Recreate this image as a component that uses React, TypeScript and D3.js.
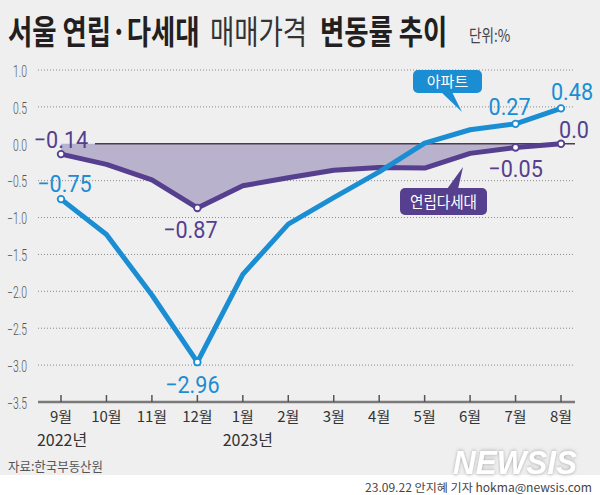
import React from 'react';
import * as d3 from 'd3';

const months = ['9월', '10월', '11월', '12월', '1월', '2월', '3월', '4월', '5월', '6월', '7월', '8월'];
const apartment = [-0.75, -1.23, -2.05, -2.96, -1.77, -1.09, -0.73, -0.38, 0.01, 0.19, 0.27, 0.48];
const villa = [-0.14, -0.28, -0.49, -0.87, -0.57, -0.46, -0.36, -0.32, -0.33, -0.13, -0.05, 0.0];
const yTicks = [1.0, 0.5, 0, -0.5, -1.0, -1.5, -2.0, -2.5, -3.0, -3.5];
const labeledIdx = [0, 3, 10, 11];
const yearLabels = ['2022년', '2023년'];
const yearMonths = ['9월', '1월'];

const W = 600;
const H = 495;
const BLUE = '#1b8dd3';
const PURPLE = '#553f8e';
const FILL = '#b8b2cc';
const BG = '#efefef';
const KR = "'Noto Sans CJK KR', 'Noto Sans', sans-serif";
const NUM = "Roboto, 'Noto Sans', sans-serif";

// label placement (dx, dy relative to point)
const aptLabelOffsets = [[3.5, -7.5], [-5, 31], [-6, -9], [11, -8.5]];
const villaLabelOffsets = [[0, -6], [-7, 30], [0, 29.5], [13, -6]];
const yearOffsets = [1, 5];
const TITLE_SX = 0.8;

export default function App() {
  const x = d3.scalePoint<string>().domain(months).range([61, 561]);
  const y = d3.scaleLinear().domain([-3.5, 1.0]).range([402, 70]);
  const xi = (i: number) => x(months[i]) as number;
  const line = d3.line<number>().x((_, i) => xi(i)).y((d) => y(d));
  const area = d3
    .area<number>()
    .x((_, i) => xi(i))
    .y0(y(0))
    .y1((d) => y(Math.min(d, 0)));
  const fmt = (v: number) => (v === 0 ? '0.0' : d3.format('.2f')(v));
  const fmtTick = (v: number) => d3.format('.1f')(v);
  const gx0 = 38;
  const gx1 = 575;
  const tx = (px: number) => px / TITLE_SX;

  const numLabel = (v: number, i: number, off: number[], color: string, key: string) => (
    <text
      key={key}
      transform={`translate(${xi(i) + off[0]},${y(v) + off[1]}) scale(0.9,1)`}
      textAnchor="middle"
      fontFamily={NUM}
      fontSize={24}
      fill={color}
    >
      {fmt(v)}
    </text>
  );

  return (
    <svg
      width={W}
      height={H}
      viewBox={`0 0 ${W} ${H}`}
      style={{ position: 'absolute', left: 0, top: 0, background: '#fff' }}
    >
      <defs>
        <filter id="wm" x="-10%" y="-30%" width="120%" height="160%">
          <feDropShadow dx="0" dy="0" stdDeviation="1.6" floodColor="#9a9a9a" floodOpacity="0.9" />
        </filter>
      </defs>
      <rect x={0} y={0} width={W} height={475} fill={BG} />

      {/* Title */}
      <text transform={`translate(0,44) scale(${TITLE_SX},1)`} fontFamily={KR} fontSize={33} fill="#231f20">
        <tspan x={tx(8)} fontWeight={700}>서울 연립·다세대</tspan>
        <tspan x={tx(210)} fontWeight={400} fill="#333">매매가격</tspan>
        <tspan x={tx(320)} fontWeight={700}>변동률 추이</tspan>
        <tspan x={tx(469)} y={-2} fontWeight={400} fontSize={17} fill="#444">단위:%</tspan>
      </text>

      {/* gridlines */}
      {yTicks
        .filter((t) => t !== 0 && t !== -3.5)
        .map((t) => (
          <line key={'g' + t} x1={gx0} x2={gx1} y1={y(t)} y2={y(t)} stroke="#8a8a8a" strokeWidth={1} strokeDasharray="1,2" />
        ))}

      {/* y tick labels */}
      {yTicks.map((t) => (
        <text
          key={'yl' + t}
          transform={`translate(27,${y(t) + 1}) scale(0.65,1)`}
          textAnchor="end"
          dy="0.36em"
          fontFamily={NUM}
          fontWeight={300}
          fontSize={16}
          fill="#555"
        >
          {fmtTick(t)}
        </text>
      ))}

      {/* villa fill */}
      <path d={area(villa) as string} fill={FILL} />
      {/* zero line */}
      <line x1={xi(0) + 34} x2={gx1} y1={y(0)} y2={y(0)} stroke="#4a3d4e" strokeWidth={1.5} />

      {/* x axis */}
      <line x1={gx0} x2={gx1} y1={y(-3.5)} y2={y(-3.5)} stroke="#7a7a7a" strokeWidth={2.5} />
      {months.map((m) => (
        <line key={'t' + m} x1={x(m)} x2={x(m)} y1={y(-3.5) - 7} y2={y(-3.5)} stroke="#555" strokeWidth={1.5} />
      ))}
      {months.map((m) => (
        <text key={'xl' + m} x={x(m)} y={422} textAnchor="middle" fontFamily={KR} fontSize={15} fill="#333">
          {m}
        </text>
      ))}
      {yearLabels.map((t, i) => (
        <text
          key={t}
          x={(x(yearMonths[i]) as number) + yearOffsets[i]}
          y={446}
          textAnchor="middle"
          fontFamily={KR}
          fontSize={16}
          fill="#333"
        >
          {t}
        </text>
      ))}

      {/* lines */}
      <path d={line(villa) as string} fill="none" stroke={PURPLE} strokeWidth={5} strokeLinejoin="round" />
      <path d={line(apartment) as string} fill="none" stroke={BLUE} strokeWidth={5} strokeLinejoin="round" />

      {/* markers */}
      {labeledIdx.map((i) => (
        <circle key={'vm' + i} cx={xi(i)} cy={y(villa[i])} r={3.3} fill="#fff" stroke={PURPLE} strokeWidth={1.8} />
      ))}
      {labeledIdx.map((i) => (
        <circle key={'am' + i} cx={xi(i)} cy={y(apartment[i])} r={3.3} fill="#fff" stroke={BLUE} strokeWidth={1.8} />
      ))}

      {/* value labels */}
      {labeledIdx.map((i, k) => numLabel(villa[i], i, villaLabelOffsets[k], PURPLE, 'vl' + i))}
      {labeledIdx.map((i, k) => numLabel(apartment[i], i, aptLabelOffsets[k], BLUE, 'al' + i))}

      {/* callouts */}
      <path d="M441,92 L452,92 L462,112 Z" fill={BLUE} />
      <rect x={413} y={70} width={69} height={23} rx={5} fill={BLUE} />
      <text x={447.5} y={87} textAnchor="middle" fontFamily={KR} fontSize={15} fill="#fff">
        아파트
      </text>

      <path d="M447,189 L458,189 L463,167 Z" fill={PURPLE} />
      <rect x={400} y={188} width={87} height={27} rx={5} fill={PURPLE} />
      <text
        transform="translate(443.5,208) scale(0.91,1)"
        textAnchor="middle"
        fontFamily={KR}
        fontSize={16}
        fill="#fff"
      >
        연립다세대
      </text>

      {/* source */}
      <text x={8} y={471} fontFamily={KR} fontSize={13} fill="#555" textLength={95} lengthAdjust="spacingAndGlyphs">
        자료:한국부동산원
      </text>

      {/* watermark */}
      <text
        transform="translate(453,474) scale(1,1.3)"
        fontFamily="'Liberation Sans', Arial, sans-serif"
        fontWeight={700}
        fontStyle="italic"
        fontSize={25}
        fill="#fff"
        textLength={124}
        lengthAdjust="spacingAndGlyphs"
        filter="url(#wm)"
      >
        NEWSIS
      </text>

      {/* credit */}
      <text x={365} y={492} fontFamily={KR} fontSize={11.5} fill="#444" textLength={227} lengthAdjust="spacingAndGlyphs">
        23.09.22 안지혜 기자 hokma@newsis.com
      </text>
    </svg>
  );
}
